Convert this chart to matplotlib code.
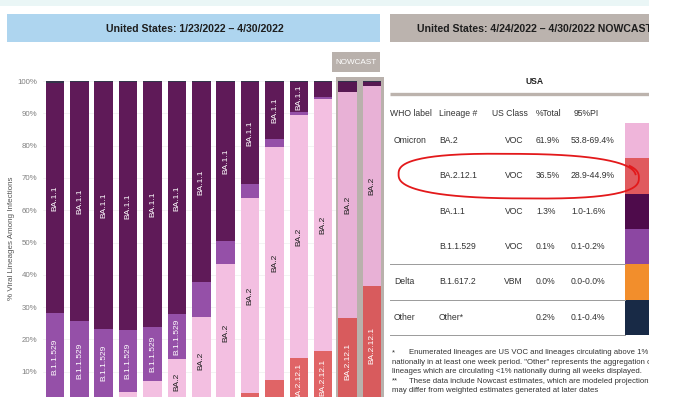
import numpy as np
import matplotlib
matplotlib.use("Agg")
import matplotlib.pyplot as plt
from matplotlib.patches import Rectangle

plt.rcParams['font.family'] = ['Liberation Sans', 'DejaVu Sans']

W, H = 680, 397

# weekly shares (%), stacked bottom -> top
weeks = ["1/29", "2/5", "2/12", "2/19", "2/26", "3/5", "3/12",
         "3/19", "3/26", "4/2", "4/9", "4/16", "4/23", "4/30"]
n_nowcast = 2
delta = [0.5, 0.2, 0.1, 0, 0, 0, 0, 0, 0, 0, 0, 0, 0, 0]
ba2_12_1 = [0, 0, 0, 0, 0, 0, 0, 0.7, 3.4, 7.5, 14.2, 16.5, 26.6, 36.5]
ba2 = [0.4, 1.0, 2.0, 3.8, 7.2, 14.0, 26.9, 42.7, 60.3, 72.2, 75.2, 77.9, 69.9, 61.9]
b11529 = [27.4, 24.6, 21.2, 19.1, 16.6, 13.8, 10.8, 7.2, 4.3, 2.2, 0.9, 0.8, 0.2, 0.1]
ba11 = [71.1, 73.9, 76.4, 76.8, 75.9, 71.9, 62.0, 49.1, 31.7, 17.8, 9.4, 4.5, 2.9, 1.3]
other = [0.6, 0.3, 0.3, 0.3, 0.3, 0.3, 0.3, 0.3, 0.3, 0.3, 0.3, 0.3, 0.4, 0.2]

stack = [("B.1.617.2", delta), ("BA.2.12.1", ba2_12_1), ("BA.2", ba2),
         ("B.1.1.529", b11529), ("BA.1.1", ba11), ("Other", other)]
colores = {"B.1.617.2": "#f28e2c", "BA.2.12.1": "#e06466", "BA.2": "#f3bfe1",
           "B.1.1.529": "#9550a8", "BA.1.1": "#5f1a58", "Other": "#33354a"}
colores_nowcast = {"B.1.617.2": "#e08428", "BA.2.12.1": "#d85b5d", "BA.2": "#e8b1d6",
                   "B.1.1.529": "#8a4a9c", "BA.1.1": "#571852", "Other": "#30324a"}
texto_blanco = {"BA.2.12.1", "B.1.1.529", "BA.1.1"}

# nowcast table (last week)
who_label = ["Omicron", "", "", "", "Delta", "Other"]
lineage = ["BA.2", "BA.2.12.1", "BA.1.1", "B.1.1.529", "B.1.617.2", "Other*"]
us_class = ["VOC", "VOC", "VOC", "VOC", "VBM", ""]
pct_total = [61.9, 36.5, 1.3, 0.1, 0.0, 0.2]
pi_low = [53.8, 28.9, 1.0, 0.1, 0.0, 0.1]
pi_high = [69.4, 44.9, 1.6, 0.2, 0.0, 0.4]
swatch = ["#efb5da", "#e05a5e", "#4e0b4b", "#8c47a2", "#f28e2c", "#182a46"]

notas = [
    ("*", "Enumerated lineages are US VOC and lineages circulating above 1%"),
    ("", "nationally in at least one week period. \"Other\" represents the aggregation of"),
    ("", "lineages which are circulating <1% nationally during all weeks displayed."),
    ("**", "These data include Nowcast estimates, which are modeled projections that"),
    ("", "may differ from weighted estimates generated at later dates"),
]

fig = plt.figure(figsize=(W / 100, H / 100), dpi=100)
fig.patch.set_facecolor("white")

# fondo / cabeceras en coordenadas de pixel
ax0 = fig.add_axes([0, 0, 1, 1])
ax0.set_xlim(0, W)
ax0.set_ylim(H, 0)
ax0.axis("off")
ax0.add_patch(Rectangle((0, 0), 649, 6, facecolor="#eaf6f6", edgecolor="none"))
ax0.add_patch(Rectangle((7, 14), 373, 28, facecolor="#aed5ef", edgecolor="none"))
ax0.text(195, 28.5, "United States: 1/23/2022 \u2013 4/30/2022", ha="center", va="center",
         fontsize=7.6, fontweight="bold", color="#1e1e1e")
ax0.add_patch(Rectangle((332, 52), 48, 20, facecolor="#b9b1ac", edgecolor="none"))
ax0.text(356, 62.5, "NOWCAST", ha="center", va="center", fontsize=5.9, color="white")

# grafico de barras
px_pct = 3.23
y0 = 404
step = 24.38
x_left = 55 - step / 2
top_pct = 102
ax = fig.add_axes([x_left / W, (H - y0) / H, step * 14 / W, top_pct * px_pct / H])
ax.set_xlim(-0.5, 13.5)
ax.set_ylim(0, top_pct)
ax.patch.set_alpha(0)
for s in ax.spines.values():
    s.set_visible(False)

x = np.arange(len(weeks))
ax.add_patch(Rectangle((len(weeks) - n_nowcast - 0.48, 0), n_nowcast + 0.01, 101.3,
                       facecolor="#b9b1ac", edgecolor="none", zorder=1))
base = np.zeros(len(weeks))
for nombre, vals in stack:
    vals = np.array(vals, dtype=float)
    cols = [colores_nowcast[nombre] if i >= len(weeks) - n_nowcast else colores[nombre]
            for i in range(len(weeks))]
    ax.bar(x, vals, bottom=base, width=0.76, color=cols, edgecolor="none", zorder=2)
    for i, v in enumerate(vals):
        if nombre in ("Other", "B.1.617.2"):
            continue
        if v >= max(9, 1.25 * len(nombre)):
            ax.text(x[i], base[i] + v / 2, nombre, rotation=90, ha="center", va="center",
                    fontsize=6, color="white" if nombre in texto_blanco else "#222222",
                    zorder=3)
    base += vals

ax.set_yticks(np.arange(10, 101, 10))
ax.set_yticklabels([f"{t}%" for t in range(10, 101, 10)], fontsize=5.7, color="#808080")
ax.tick_params(axis="y", length=0, pad=4)
ax.set_xticks([])
ax.grid(axis="y", color="#eeeeee", lw=0.5, zorder=0)
ax.set_axisbelow(True)
ax.set_ylabel("% Viral Lineages Among Infections", fontsize=5.8, color="#555555")
ax.yaxis.set_label_coords((15 - x_left) / (step * 14), (y0 - 238) / (top_pct * px_pct))

# panel derecho (recortado a 649 px)
axr = fig.add_axes([385 / W, 0, (649 - 385) / W, 1])
axr.set_xlim(385, 649)
axr.set_ylim(H, 0)
axr.axis("off")
axr.add_patch(Rectangle((390, 14), 259, 28, facecolor="#bbb3ae", edgecolor="none"))
axr.text(417, 28.5, "United States: 4/24/2022 \u2013 4/30/2022 NOWCAST", ha="left", va="center",
         fontsize=7.6, fontweight="bold", color="#1e1e1e", clip_on=True)
axr.text(535, 81, "USA", ha="center", va="center", fontsize=6.2, fontweight="bold", color="#222")
axr.plot([390, 649], [94, 94], color="#bcb3ad", lw=2.4, solid_capstyle="butt")

hy = 113
axr.text(390, hy, "WHO label", ha="left", va="center", fontsize=6.2, color="#333")
axr.text(439, hy, "Lineage #", ha="left", va="center", fontsize=6.2, color="#333")
axr.text(528, hy, "US Class", ha="right", va="center", fontsize=6.2, color="#333")
axr.text(536, hy, "%Total", ha="left", va="center", fontsize=6.2, color="#333")
axr.text(586, hy, "95%PI", ha="center", va="center", fontsize=6.2, color="#333")

row_top = 123
row_h = 35.3
for i in range(len(lineage)):
    yc = row_top + row_h * (i + 0.5)
    axr.text(394, yc, who_label[i], ha="left", va="center", fontsize=6.2, color="#333")
    axr.text(439, yc, lineage[i], ha="left", va="center", fontsize=6.2, color="#333")
    axr.text(523, yc, us_class[i], ha="right", va="center", fontsize=6.2, color="#333")
    axr.text(536, yc, f"{pct_total[i]:.1f}%", ha="left", va="center", fontsize=6.2, color="#333")
    axr.text(571, yc, f"{pi_low[i]:.1f}-{pi_high[i]:.1f}%", ha="left", va="center",
             fontsize=6.2, color="#333")
    axr.add_patch(Rectangle((625, row_top + row_h * i), 24, row_h,
                            facecolor=swatch[i], edgecolor="none"))
for k in (4, 5, 6):
    yl = row_top + row_h * k
    axr.plot([390, 625], [yl, yl], color="#9a9a9a", lw=0.7)

for j, (marca, linea) in enumerate(notas):
    yn = 353 + 9.4 * j
    if marca:
        axr.text(392, yn, marca, ha="left", va="center", fontsize=5.6, color="#333")
        axr.text(409, yn, linea, ha="left", va="center", fontsize=5.6, color="#333", clip_on=True)
    else:
        axr.text(392, yn, linea, ha="left", va="center", fontsize=5.6, color="#333", clip_on=True)

# trazo rojo a mano alzada alrededor de BA.2.12.1
t = np.linspace(0.1, 2 * np.pi + 0.45, 300)
n = 2.6
crec = 1 + 0.025 * (t - 0.1) / (2 * np.pi)
ex = 518 + 118 * crec * np.sign(np.cos(t)) * np.abs(np.cos(t)) ** (2 / n)
ey = 176 - 22 * crec * np.sign(np.sin(t)) * np.abs(np.sin(t)) ** (2 / n) + 2 * np.cos(t)
axr.plot(ex, ey, color="#e3191b", lw=1.3)

fig.savefig("out.png", dpi=100)
